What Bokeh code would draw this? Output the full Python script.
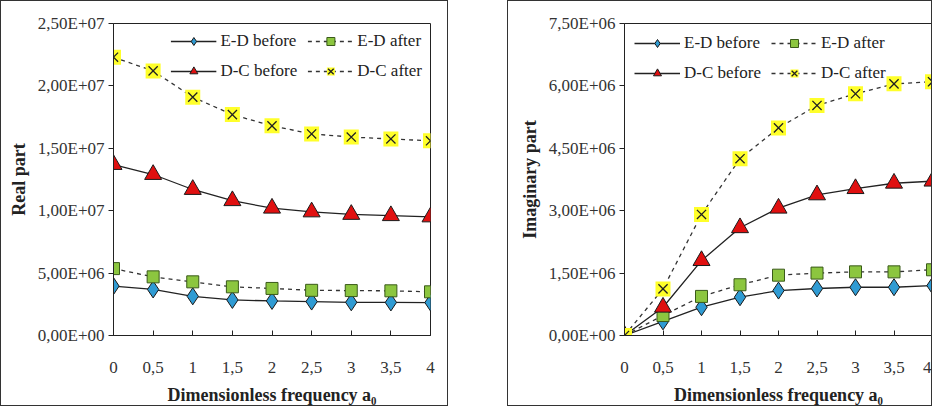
from bokeh.plotting import figure
from bokeh.models import (Range1d, FixedTicker, CustomJSTickFormatter, Legend, LegendItem, Spacer)
from bokeh.layouts import row
from bokeh.embed import file_html
from bokeh.resources import INLINE

# ---------------- data ----------------
a0 = [0, 0.5, 1, 1.5, 2, 2.5, 3, 3.5, 4]
x_ticks = [0, 0.5, 1, 1.5, 2, 2.5, 3, 3.5, 4]

real_ticks = [0, 5e6, 1e7, 1.5e7, 2e7, 2.5e7]
real_ed_before = [3.96e6, 3.69e6, 3.14e6, 2.85e6, 2.77e6, 2.72e6, 2.66e6, 2.65e6, 2.64e6]
real_ed_after = [5.36e6, 4.7e6, 4.3e6, 3.9e6, 3.77e6, 3.62e6, 3.6e6, 3.58e6, 3.5e6]
real_dc_before = [13.7e6, 12.9e6, 11.7e6, 10.8e6, 10.2e6, 9.9e6, 9.7e6, 9.6e6, 9.5e6]
real_dc_after = [22.3e6, 21.2e6, 19.1e6, 17.7e6, 16.8e6, 16.15e6, 15.9e6, 15.75e6, 15.6e6]

imag_ticks = [0, 1.5e6, 3e6, 4.5e6, 6e6, 7.5e6]
imag_ed_before = [0, 0.34e6, 0.68e6, 0.92e6, 1.08e6, 1.13e6, 1.16e6, 1.16e6, 1.2e6]
imag_ed_after = [0, 0.48e6, 0.94e6, 1.22e6, 1.45e6, 1.5e6, 1.53e6, 1.53e6, 1.58e6]
imag_dc_before = [0, 0.68e6, 1.8e6, 2.59e6, 3.06e6, 3.38e6, 3.53e6, 3.66e6, 3.71e6]
imag_dc_after = [0, 1.12e6, 2.91e6, 4.25e6, 4.99e6, 5.53e6, 5.81e6, 6.05e6, 6.1e6]

labels = ["E-D before", "E-D after", "D-C before", "D-C after"]

FONT = "'Liberation Serif', 'Times New Roman', serif"

y_fmt = CustomJSTickFormatter(code="""
const s = tick.toExponential(2);
const parts = s.split('e');
const sign = parts[1][0];
const d = parts[1].slice(1).padStart(2, '0');
return parts[0].replace('.', ',') + 'E' + sign + d;
""")
x_fmt = CustomJSTickFormatter(code="return tick.toString().replace('.', ',');")


def make_panel(title_y, yticks, ed_b, ed_a, dc_b, dc_a, width, mb, legend_loc, leg_margin):
    p = figure(width=width, height=406, output_backend="svg", toolbar_location=None,
               x_range=Range1d(0, 4), y_range=Range1d(yticks[0], yticks[-1]),
               min_border_left=mb[0], min_border_right=mb[1],
               min_border_top=mb[2], min_border_bottom=mb[3])
    p.styles = {"border": "1px solid #333"}
    p.xgrid.visible = False
    p.ygrid.visible = False
    p.outline_line_color = "#222"
    p.outline_line_width = 1

    for ax in (p.xaxis[0], p.yaxis[0]):
        ax.axis_line_color = "#222"
        ax.major_tick_line_color = "#222"
        ax.minor_tick_line_color = None
        ax.major_label_text_font = FONT
        ax.major_label_text_font_size = "17px"
        ax.major_label_text_color = "#333"
        ax.axis_label_text_font = FONT
        ax.axis_label_text_font_style = "bold"
        ax.axis_label_text_font_size = "18px"
        ax.axis_label_text_color = "#222"

    p.xaxis.ticker = FixedTicker(ticks=x_ticks)
    p.xaxis.formatter = x_fmt
    p.xaxis.major_tick_in = 5
    p.xaxis.major_tick_out = 0
    p.xaxis.major_label_standoff = 26
    p.xaxis.axis_label = "Dimensionless frequency a\u2080"
    p.xaxis.axis_label_standoff = 9

    p.yaxis.ticker = FixedTicker(ticks=yticks)
    p.yaxis.formatter = y_fmt
    p.yaxis.major_tick_in = 0
    p.yaxis.major_tick_out = 5
    p.yaxis.major_label_standoff = 4
    p.yaxis.axis_label = title_y
    p.yaxis.axis_label_standoff = 6

    # E-D before
    l1 = p.line(a0, ed_b, line_color="#222", line_width=1.3)
    s1 = p.scatter(a0, ed_b, marker="diamond", size=17, fill_color="#2f9bd3",
                   line_color="#1a1a1a", line_width=1)
    # E-D after
    l2 = p.line(a0, ed_a, line_color="#333", line_width=1.3, line_dash="4 4")
    s2 = p.scatter(a0, ed_a, marker="square", size=12, fill_color="#8cc63f",
                   line_color="#3a5a1a", line_width=1)
    # D-C before
    l3 = p.line(a0, dc_b, line_color="#222", line_width=1.3)
    s3 = p.scatter(a0, dc_b, marker="triangle", size=17, fill_color="#e01010",
                   line_color="#1a1a1a", line_width=1)
    # D-C after
    l4 = p.line(a0, dc_a, line_color="#333", line_width=1.3, line_dash="4 4")
    s4 = p.scatter(a0, dc_a, marker="square", size=15, fill_color="#ffff2a",
                   line_color=None)
    s4x = p.scatter(a0, dc_a, marker="x", size=13, line_color="#222", line_width=1.3)

    items = [
        LegendItem(label=labels[0], renderers=[l1, s1]),
        LegendItem(label=labels[2], renderers=[l3, s3]),
        LegendItem(label=labels[1], renderers=[l2, s2]),
        LegendItem(label=labels[3], renderers=[l4, s4, s4x]),
    ]
    leg = Legend(items=items, location=legend_loc, ncols=2,
                 label_text_font=FONT, label_text_font_size="17px",
                 label_text_color="#222", glyph_width=46, glyph_height=20,
                 spacing=10, label_standoff=4, padding=2, margin=leg_margin,
                 border_line_color=None, background_fill_alpha=0.0)
    p.add_layout(leg)
    return p


left = make_panel("Real part", real_ticks, real_ed_before, real_ed_after,
                  real_dc_before, real_dc_after, 448, (112, 19, 18, 72), "top_right", 8)
right = make_panel("Imaginary part", imag_ticks, imag_ed_before, imag_ed_after,
                   imag_dc_before, imag_dc_after, 425, (116, 1, 22, 71), "top_left", 10)

layout = row(left, Spacer(width=59), right)

open("out.html", "w").write(file_html(layout, INLINE))
